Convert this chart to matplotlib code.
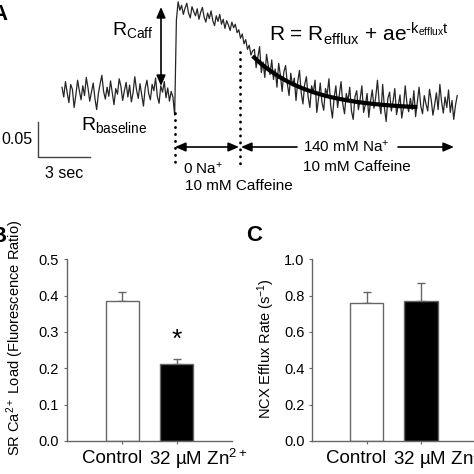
import numpy as np
import matplotlib
matplotlib.use("Agg")
import matplotlib.pyplot as plt

plt.rcParams['font.family'] = ['Liberation Sans', 'DejaVu Sans']
plt.rcParams['mathtext.fontset'] = 'custom'
plt.rcParams['mathtext.rm'] = 'Liberation Sans'
plt.rcParams['mathtext.it'] = 'Liberation Sans:italic'
plt.rcParams['mathtext.bf'] = 'Liberation Sans:bold'
plt.rcParams['mathtext.default'] = 'regular'

# ---------------- data ----------------
dt = 0.1  # s per sample
baseline = [1.004, 0.990, 1.012, 0.996, 0.982, 1.008, 1.001, 0.975, 0.993, 1.014,
            0.999, 0.986, 1.006, 0.992, 1.018, 1.003, 0.984, 0.997, 1.010, 0.988,
            0.972, 0.995, 1.009, 1.021, 0.998, 0.987, 1.004, 0.991, 1.013, 0.996,
            0.979, 1.002, 0.994, 1.016, 1.005, 0.985, 0.999, 1.011, 0.990, 1.007,
            0.983, 0.996, 1.019, 1.000, 0.988, 1.009, 0.993, 0.977, 1.003, 1.014,
            0.995, 0.986, 1.008, 0.999, 1.017, 0.991, 0.981, 1.006, 0.997, 1.012,
            0.989, 1.003, 0.984, 0.998, 0.990, 0.964]
plateau = [1.100, 1.126, 1.114, 1.121, 1.108, 1.117, 1.124, 1.110, 1.103, 1.119,
           1.112, 1.106, 1.116, 1.101, 1.111, 1.118, 1.104, 1.097, 1.110, 1.102,
           1.113, 1.099, 1.092, 1.106, 1.098, 1.108, 1.094, 1.101, 1.088, 1.099,
           1.093, 1.085, 1.097, 1.089, 1.094, 1.082]
decline = [1.086, 1.074, 1.080, 1.066, 1.072, 1.058, 1.064, 1.050, 1.056]
decay = [1.058, 1.032, 1.047, 1.062, 1.025, 1.040, 1.018, 1.051, 1.035, 1.022,
         1.043, 1.015, 1.030, 1.004, 1.038, 1.021, 0.998, 1.026, 1.035, 1.009,
         0.992, 1.024, 1.006, 1.017, 0.985, 1.012, 1.028, 0.996, 0.980, 1.008,
         1.019, 0.990, 0.975, 1.006, 0.997, 1.014, 0.968, 0.988, 1.010, 0.982,
         0.971, 1.002, 0.994, 1.016, 0.978, 0.960, 0.989, 1.006, 0.975, 0.993,
         1.012, 0.980, 0.966, 0.995, 0.985, 1.004, 0.970, 0.958, 0.990, 0.999,
         0.972, 0.987, 1.006, 0.968, 0.979, 0.995, 0.961, 0.984, 1.000, 0.974,
         0.990, 1.014, 0.982, 0.966, 1.008, 0.975, 0.955, 0.988, 0.997, 0.970,
         0.984, 1.002, 0.965, 0.978, 0.993, 0.960, 0.975, 1.006, 0.981, 0.969,
         0.988, 0.972, 0.999, 0.962, 0.983, 1.004, 0.977, 0.966, 0.992, 0.980,
         0.970, 1.001, 0.986, 0.964, 0.979, 0.996, 0.972, 1.008, 0.983, 0.967,
         0.990, 0.975, 1.000, 0.968, 0.985, 0.958, 0.978, 0.992]
fit_t = [11.0, 11.5, 12.0, 12.5, 13.0, 13.5, 14.0, 14.5, 15.0, 15.5, 16.0, 16.5,
         17.0, 17.5, 18.0, 18.5, 19.0, 19.5, 20.0, 20.5]
fit_r = [1.0485, 1.0371, 1.0277, 1.0194, 1.0123, 1.0063, 1.0012, 0.9968, 0.9931,
         0.9899, 0.9873, 0.9850, 0.9830, 0.9814, 0.9800, 0.9788, 0.9778, 0.9769,
         0.9762, 0.9756]

groups = ['Control', '32 \u00b5M Zn$^{2+}$']
sr_load = [0.386, 0.213]
sr_load_err = [0.023, 0.013]
ncx_rate = [0.757, 0.772]
ncx_rate_err = [0.064, 0.096]
bar_colors = ['white', 'black']

ratio = np.array(baseline + plateau + decline + decay)
t = np.arange(len(ratio)) * dt

W = H = 474
fig = plt.figure(figsize=(4.74, 4.74), dpi=100)

# ---------------- panel A ----------------
px_per_s = 52 / 3.0
px_per_r = 700.0
x0px, y0px = 62.0, 90.0
topH = 200.0
axA = fig.add_axes([0, 1 - topH / H, 1, topH / H])
axA.set_xlim(-x0px / px_per_s, (W - x0px) / px_per_s)
axA.set_ylim(1 - (topH - y0px) / px_per_r, 1 + y0px / px_per_r)
axA.axis('off')
axA.plot(t, ratio, color='#262626', lw=0.9)
axA.plot(fit_t, fit_r, color='black', lw=3, solid_capstyle='butt')
# scale bar
sb_t = (38.3 - x0px) / px_per_s
sb_r = 1 - (156.7 - y0px) / px_per_r
axA.plot([sb_t, sb_t, sb_t + 3], [sb_r + 0.05, sb_r, sb_r], color='#444', lw=1)

# pixel overlay for annotations
axP = fig.add_axes([0, 1 - topH / H, 1, topH / H])
axP.set_xlim(0, W)
axP.set_ylim(topH, 0)
axP.axis('off')

def arrow(x1, y1, x2, y2, style):
    axP.annotate('', xy=(x2, y2), xytext=(x1, y1),
                 arrowprops=dict(arrowstyle=style, color='black', lw=1.2,
                                 shrinkA=0, shrinkB=0, mutation_scale=9))

arrow(161, 86, 161, 7, '<|-|>,head_length=0.7,head_width=0.3')
arrow(175, 147, 239, 147, '<|-|>,head_length=0.7,head_width=0.3')
arrow(297, 147, 241, 147, '-|>,head_length=0.7,head_width=0.3')
arrow(398, 147, 454, 147, '-|>,head_length=0.7,head_width=0.3')
axP.plot([175, 175], [113, 165], color='black', lw=2,
         linestyle=(0, (0.1, 2.4)), dash_capstyle='round')
axP.plot([240, 240], [52, 170], color='black', lw=2,
         linestyle=(0, (0.1, 2.4)), dash_capstyle='round')

axP.text(112, 35, 'R$_{Caff}$', fontsize=14, ha='left', va='baseline')
axP.text(81, 130, 'R$_{baseline}$', fontsize=14, ha='left', va='baseline')
axP.text(269, 41, r'R = R$_{efflux}$ + ae$^{\text{-}k_{efflux}t}$', fontsize=15,
         ha='left', va='baseline')
axP.text(33, 139, '0.05', fontsize=11.5, ha='right', va='center')
axP.text(64.5, 173, '3 sec', fontsize=11.5, ha='center', va='center')
axP.text(183, 169, '0 Na$^{+}$', fontsize=11, ha='left', va='center')
axP.text(185, 186, '10 mM Caffeine', fontsize=11, ha='left', va='center')
axP.text(303, 147, '140 mM Na$^{+}$', fontsize=11, ha='left', va='center')
axP.text(303, 167, '10 mM Caffeine', fontsize=11, ha='left', va='center')

# ---------------- bar panels ----------------
spine_c = '#666666'

def bar_panel(rect, xlim, ylim, yticks, vals, errs):
    ax = fig.add_axes(rect)
    x = np.arange(len(vals))
    ax.bar(x, vals, width=0.61, color=bar_colors, edgecolor=spine_c, lw=1, zorder=2)
    ax.errorbar(x, vals, yerr=[np.zeros(len(errs)), errs], fmt='none',
                ecolor=spine_c, elinewidth=1, capsize=3, capthick=1, zorder=1)
    ax.set_xlim(*xlim)
    ax.set_ylim(*ylim)
    ax.set_yticks(yticks)
    ax.set_yticklabels(['%.1f' % v for v in yticks])
    ax.set_xticks(x)
    ax.set_xticklabels([])
    for s in ['top', 'right']:
        ax.spines[s].set_visible(False)
    for s in ['left', 'bottom']:
        ax.spines[s].set_color(spine_c)
        ax.spines[s].set_linewidth(1)
    ax.tick_params(direction='out', length=2.5, width=0.8, color=spine_c,
                   labelsize=10.5, pad=3)
    ax.patch.set_alpha(0)
    return ax

bot = 1 - 441 / H
hgt = 181.7 / H
axB = bar_panel([66.7 / W, bot, 165 / W, hgt], (-1.022, 2.011), (0, 0.5),
                [0.0, 0.1, 0.2, 0.3, 0.4, 0.5], sr_load, sr_load_err)
axC = bar_panel([312.3 / W, bot, (480 - 312.3) / W, hgt], (-1.002, 2.087), (0, 1.0),
                [0.0, 0.2, 0.4, 0.6, 0.8, 1.0], ncx_rate, ncx_rate_err)

axB.text(1, 0.278, '*', fontsize=19, ha='center', va='center')

# group labels
for ax, ylab in [(axB, -0.0495), (axC, -0.099)]:
    ax.text(0.36, ylab, groups[0], fontsize=13.5, ha='right', va='center', clip_on=False)
    ax.text(0.49, ylab, groups[1], fontsize=13.5, ha='left', va='center', clip_on=False)

fig.text(15.5 / W, 1 - 338 / H, 'SR Ca$^{2+}$ Load (Fluorescence Ratio)', fontsize=10.5,
         rotation=90, ha='center', va='center')
fig.text(266 / W, 1 - 349 / H, 'NCX Efflux Rate (s$^{-1}$)', fontsize=10.5,
         rotation=90, ha='center', va='center')

fig.text(-9 / W, 1 - 15 / H, 'A', fontsize=16, fontweight='bold', ha='left', va='center')
fig.text(-10 / W, 1 - 236 / H, 'B', fontsize=16, fontweight='bold', ha='left', va='center')
fig.text(246 / W, 1 - 235 / H, 'C', fontsize=16, fontweight='bold', ha='left', va='center')

fig.savefig('out.png', dpi=100)
